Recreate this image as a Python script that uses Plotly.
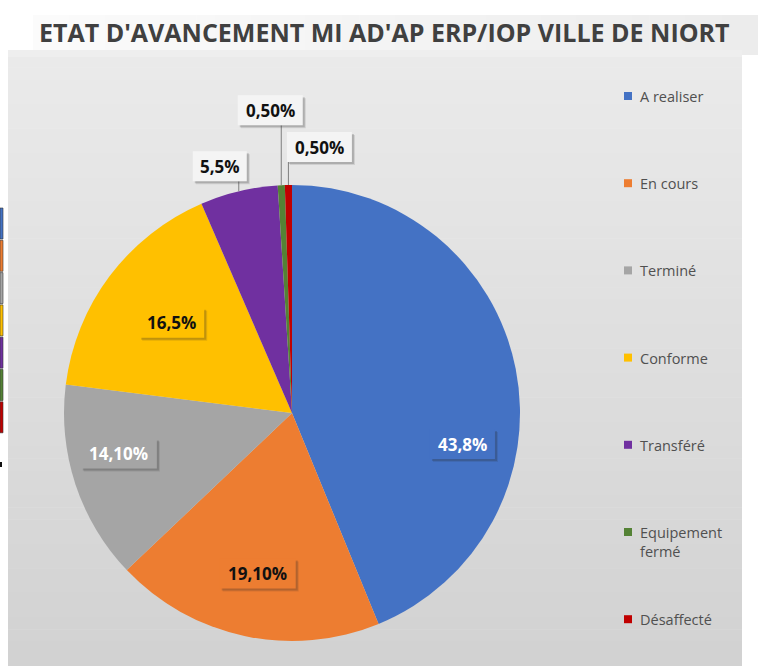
import math
import plotly.graph_objects as go

# ---- data ----
categories = ["A realiser", "En cours", "Terminé", "Conforme", "Transféré",
              "Equipement fermé", "Désaffecté"]
values = [43.8, 19.1, 14.1, 16.5, 5.5, 0.5, 0.5]
value_labels = ["43,8%", "19,10%", "14,10%", "16,5%", "5,5%", "0,50%", "0,50%"]
legend_labels = ["A realiser", "En cours", "Terminé", "Conforme", "Transféré",
                 "Equipement<br>fermé", "Désaffecté"]
colors = ["#4472C4", "#ED7D31", "#A5A5A5", "#FFC000", "#7030A0", "#548235", "#C00000"]
title_text = "ETAT D'AVANCEMENT MI AD'AP ERP/IOP VILLE DE NIORT"

# ---- layout constants (pixels) ----
W, H = 758, 666
CX, CY, R = 292, 413, 228


def px(x):
    return x / W


def py(y):
    return 1 - y / H


def mix(c1, c2, t):
    return "rgb(%d,%d,%d)" % tuple(round(a + (b - a) * t) for a, b in zip(c1, c2))


shapes = []
# chart area gradient background
top_c, bot_c = (234, 234, 234), (210, 210, 210)
nb = 50
y0, y1 = 55, 666
for i in range(nb):
    ya = y0 + (y1 - y0) * i / nb
    yb = y0 + (y1 - y0) * (i + 1) / nb + 0.5
    shapes.append(dict(type="rect", xref="paper", yref="paper", layer="below",
                       x0=px(8), x1=px(742), y0=py(yb), y1=py(ya),
                       line=dict(width=0), fillcolor=mix(top_c, bot_c, i / (nb - 1))))
# title band gradient (white -> light grey)
for i in range(40):
    xa = 33 + (758 - 33) * i / 40
    xb = 33 + (758 - 33) * (i + 1) / 40 + 0.5
    shapes.append(dict(type="rect", xref="paper", yref="paper", layer="below",
                       x0=px(xa), x1=px(xb), y0=py(55), y1=py(15),
                       line=dict(width=0), fillcolor=mix((251, 251, 251), (236, 236, 236), i / 39)))
shapes.append(dict(type="rect", xref="paper", yref="paper", layer="below",
                   x0=px(8), x1=px(742), y0=py(57), y1=py(50),
                   line=dict(width=0), fillcolor="rgb(238,238,238)"))
# cut-off legend strip on the far left
for i, c in enumerate(colors):
    ya = 208 + i * 32.3
    shapes.append(dict(type="rect", xref="paper", yref="paper", layer="below",
                       x0=0, x1=px(3), y0=py(ya + 31), y1=py(ya),
                       line=dict(width=0.6, color="#333333"), fillcolor=c))
shapes.append(dict(type="rect", xref="paper", yref="paper", layer="below",
                   x0=0, x1=px(2), y0=py(467), y1=py(462),
                   line=dict(width=0), fillcolor="#111111"))

fig = go.Figure(go.Pie(
    labels=categories, values=values, sort=False, direction="clockwise", rotation=0,
    marker=dict(colors=colors, line=dict(width=0)),
    textinfo="none", hoverinfo="label+percent", showlegend=False,
    domain=dict(x=[px(CX - R), px(CX + R)], y=[py(CY + R), py(CY - R)]),
))

annotations = []
label_font = "Open Sans"

# data labels, placed from each slice's mid-angle
total = sum(values)
cum = 0.0
inside = {0: (0.76, 21.5, "white"), 1: (0.72, 0, "#111111"),
          2: (0.78, 5, "white"), 3: (0.66, 0, "#111111")}
outside = {4: (-19, -25), 5: (-11, -75), 6: (31, -38)}
for i, v in enumerate(values):
    mid = 360 * (cum + v / 2) / total
    cum += v
    if i in inside:
        rf, nudge, tc = inside[i]
        a = math.radians(mid + nudge)
        lx, ly = CX + rf * R * math.sin(a), CY - rf * R * math.cos(a)
        bg, fc = colors[i], tc
    else:
        a = math.radians(mid)
        ex, ey = CX + R * math.sin(a), CY - R * math.cos(a)
        dx, dy = outside[i]
        lx, ly = ex + dx, ey + dy
        bg, fc = "#f4f4f4", "#111111"
        shapes.append(dict(type="line", xref="paper", yref="paper",
                           x0=px(ex), x1=px(ex), y0=py(ey), y1=py(ly + 15),
                           line=dict(color="#7f7f7f", width=1)))
    bw, bh = 11 * len(value_labels[i]) + 10, 30
    # soft drop shadow + box
    for off, alpha in ((3, 0.12), (2, 0.2)):
        shapes.append(dict(type="rect", xref="paper", yref="paper",
                           x0=px(lx - bw / 2 + off), x1=px(lx + bw / 2 + off),
                           y0=py(ly + bh / 2 + off), y1=py(ly - bh / 2 + off),
                           line=dict(width=0), fillcolor="rgba(40,40,40,%.2f)" % alpha))
    shapes.append(dict(type="rect", xref="paper", yref="paper",
                       x0=px(lx - bw / 2), x1=px(lx + bw / 2),
                       y0=py(ly + bh / 2), y1=py(ly - bh / 2),
                       line=dict(width=0), fillcolor=bg))
    annotations.append(dict(x=px(lx), y=py(ly), xref="paper", yref="paper",
                            xanchor="center", yanchor="middle",
                            text="<b>%s</b>" % value_labels[i], showarrow=False,
                            font=dict(family=label_font, size=17, color=fc)))

# custom legend
for i, lab in enumerate(legend_labels):
    ly = 96 + i * 87.2
    shapes.append(dict(type="rect", xref="paper", yref="paper",
                       x0=px(624), x1=px(632), y0=py(ly + 4), y1=py(ly - 4),
                       line=dict(width=0), fillcolor=colors[i]))
    annotations.append(dict(x=px(638), y=py(ly - 11), xref="paper", yref="paper",
                            text=lab, showarrow=False, xanchor="left", yanchor="top",
                            align="left",
                            font=dict(family=label_font, size=14.5, color="#505050")))

# title
annotations.append(dict(x=px(384), y=py(32), xref="paper", yref="paper",
                        xanchor="center", yanchor="middle",
                        text="<b>%s</b>" % title_text, showarrow=False,
                        font=dict(family=label_font, size=25, color="#404040")))

fig.update_layout(
    width=W, height=H, margin=dict(l=0, r=0, t=0, b=0),
    paper_bgcolor="white", plot_bgcolor="white",
    shapes=shapes, annotations=annotations, showlegend=False,
)
fig.write_html("out.html", config={"displayModeBar": False},
               post_script="document.body.style.margin='0';")
